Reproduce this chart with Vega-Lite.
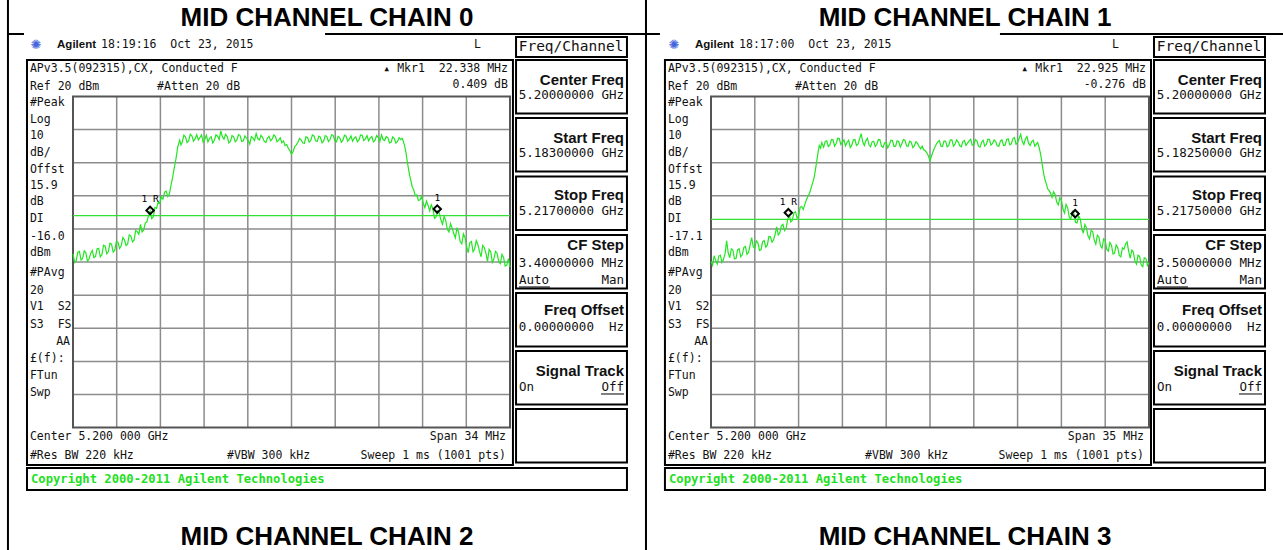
{
"$schema":"https://vega.github.io/schema/vega-lite/v6.json",
"width":1283,"height":550,"autosize":{"type":"none"},"padding":0,"background":"white",
"config":{"view":{"stroke":null}},
"datasets":{
"trace":[
{"p":"L","f":-17,"dbm":-27.5},{"p":"L","f":-16.875,"dbm":-30.1},{"p":"L","f":-16.75,"dbm":-29.6},{"p":"L","f":-16.625,"dbm":-27},{"p":"L","f":-16.5,"dbm":-26.8},{"p":"L","f":-16.375,"dbm":-29.4},{"p":"L","f":-16.25,"dbm":-28.9},{"p":"L","f":-16.125,"dbm":-26.6},{"p":"L","f":-16,"dbm":-27.2},{"p":"L","f":-15.875,"dbm":-29.8},{"p":"L","f":-15.75,"dbm":-29},{"p":"L","f":-15.625,"dbm":-27.4},{"p":"L","f":-15.5,"dbm":-26.5},{"p":"L","f":-15.375,"dbm":-28.7},{"p":"L","f":-15.25,"dbm":-28.3},{"p":"L","f":-15.125,"dbm":-26},{"p":"L","f":-15,"dbm":-25.9},{"p":"L","f":-14.875,"dbm":-28.4},{"p":"L","f":-14.75,"dbm":-27.8},{"p":"L","f":-14.625,"dbm":-24.9},{"p":"L","f":-14.5,"dbm":-25.2},{"p":"L","f":-14.375,"dbm":-27.5},{"p":"L","f":-14.25,"dbm":-26.9},{"p":"L","f":-14.125,"dbm":-24.3},{"p":"L","f":-14,"dbm":-24.6},{"p":"L","f":-13.875,"dbm":-27},{"p":"L","f":-13.75,"dbm":-26.4},{"p":"L","f":-13.625,"dbm":-23.8},{"p":"L","f":-13.5,"dbm":-24},{"p":"L","f":-13.375,"dbm":-25.9},{"p":"L","f":-13.25,"dbm":-25.1},{"p":"L","f":-13.125,"dbm":-22.6},{"p":"L","f":-13,"dbm":-23.2},{"p":"L","f":-12.875,"dbm":-25},{"p":"L","f":-12.75,"dbm":-24.6},{"p":"L","f":-12.625,"dbm":-21.8},{"p":"L","f":-12.5,"dbm":-22.1},{"p":"L","f":-12.375,"dbm":-23.9},{"p":"L","f":-12.25,"dbm":-23.4},{"p":"L","f":-12.125,"dbm":-20.5},{"p":"L","f":-12,"dbm":-20.8},{"p":"L","f":-11.875,"dbm":-21.6},{"p":"L","f":-11.75,"dbm":-18.6},{"p":"L","f":-11.625,"dbm":-20.9},{"p":"L","f":-11.5,"dbm":-20.3},{"p":"L","f":-11.375,"dbm":-18.2},{"p":"L","f":-11.25,"dbm":-17.9},{"p":"L","f":-11.125,"dbm":-16},{"p":"L","f":-11,"dbm":-14.6},{"p":"L","f":-10.875,"dbm":-16.9},{"p":"L","f":-10.75,"dbm":-16.3},{"p":"L","f":-10.625,"dbm":-13.5},{"p":"L","f":-10.5,"dbm":-13.8},{"p":"L","f":-10.375,"dbm":-11.9},{"p":"L","f":-10.25,"dbm":-12.2},{"p":"L","f":-10.125,"dbm":-10.4},{"p":"L","f":-10,"dbm":-11},{"p":"L","f":-9.875,"dbm":-8.9},{"p":"L","f":-9.75,"dbm":-8.6},{"p":"L","f":-9.625,"dbm":-10.2},{"p":"L","f":-9.5,"dbm":-9.4},{"p":"L","f":-9.375,"dbm":-6.8},{"p":"L","f":-9.25,"dbm":-4.5},{"p":"L","f":-9.125,"dbm":-1.6},{"p":"L","f":-9,"dbm":0.9},{"p":"L","f":-8.85,"dbm":4.8},{"p":"L","f":-8.7,"dbm":6.8},{"p":"L","f":-8.6,"dbm":5.4},{"p":"L","f":-8.5,"dbm":6.2},{"p":"L","f":-8.375,"dbm":8.3},{"p":"L","f":-8.25,"dbm":7.8},{"p":"L","f":-8.125,"dbm":6.1},{"p":"L","f":-8,"dbm":6.6},{"p":"L","f":-7.875,"dbm":8.6},{"p":"L","f":-7.75,"dbm":8.1},{"p":"L","f":-7.625,"dbm":6.5},{"p":"L","f":-7.5,"dbm":7.2},{"p":"L","f":-7.375,"dbm":8.5},{"p":"L","f":-7.25,"dbm":6.9},{"p":"L","f":-7.125,"dbm":7.6},{"p":"L","f":-7,"dbm":8.4},{"p":"L","f":-6.875,"dbm":6.2},{"p":"L","f":-6.75,"dbm":7},{"p":"L","f":-6.625,"dbm":8.3},{"p":"L","f":-6.5,"dbm":6.3},{"p":"L","f":-6.375,"dbm":7.4},{"p":"L","f":-6.25,"dbm":7.9},{"p":"L","f":-6.125,"dbm":6},{"p":"L","f":-6,"dbm":6.8},{"p":"L","f":-5.875,"dbm":8.4},{"p":"L","f":-5.75,"dbm":8},{"p":"L","f":-5.625,"dbm":7},{"p":"L","f":-5.5,"dbm":9.6},{"p":"L","f":-5.375,"dbm":7.8},{"p":"L","f":-5.25,"dbm":7.1},{"p":"L","f":-5.125,"dbm":8.6},{"p":"L","f":-5,"dbm":7.9},{"p":"L","f":-4.875,"dbm":6},{"p":"L","f":-4.75,"dbm":6.4},{"p":"L","f":-4.625,"dbm":8.2},{"p":"L","f":-4.5,"dbm":7.8},{"p":"L","f":-4.375,"dbm":6.3},{"p":"L","f":-4.25,"dbm":6.9},{"p":"L","f":-4.125,"dbm":8.5},{"p":"L","f":-4,"dbm":8.2},{"p":"L","f":-3.875,"dbm":6.4},{"p":"L","f":-3.75,"dbm":6.6},{"p":"L","f":-3.625,"dbm":8.1},{"p":"L","f":-3.5,"dbm":7.4},{"p":"L","f":-3.375,"dbm":6.8},{"p":"L","f":-3.25,"dbm":5.6},{"p":"L","f":-3.125,"dbm":7.9},{"p":"L","f":-3,"dbm":7.5},{"p":"L","f":-2.875,"dbm":6.7},{"p":"L","f":-2.75,"dbm":8.8},{"p":"L","f":-2.625,"dbm":7.3},{"p":"L","f":-2.5,"dbm":6.9},{"p":"L","f":-2.375,"dbm":8.3},{"p":"L","f":-2.25,"dbm":7.6},{"p":"L","f":-2.125,"dbm":6.5},{"p":"L","f":-2,"dbm":6.1},{"p":"L","f":-1.875,"dbm":7.4},{"p":"L","f":-1.75,"dbm":8},{"p":"L","f":-1.625,"dbm":6.6},{"p":"L","f":-1.5,"dbm":7.2},{"p":"L","f":-1.375,"dbm":8.4},{"p":"L","f":-1.25,"dbm":7.9},{"p":"L","f":-1.125,"dbm":6.3},{"p":"L","f":-1,"dbm":6.8},{"p":"L","f":-0.875,"dbm":7.5},{"p":"L","f":-0.75,"dbm":6},{"p":"L","f":-0.625,"dbm":6.6},{"p":"L","f":-0.5,"dbm":5.2},{"p":"L","f":-0.375,"dbm":5.5},{"p":"L","f":-0.25,"dbm":4.4},{"p":"L","f":-0.125,"dbm":3.6},{"p":"L","f":0,"dbm":2.6},{"p":"L","f":0.125,"dbm":3.3},{"p":"L","f":0.25,"dbm":4.9},{"p":"L","f":0.375,"dbm":5.4},{"p":"L","f":0.5,"dbm":6.2},{"p":"L","f":0.625,"dbm":7.3},{"p":"L","f":0.75,"dbm":6.9},{"p":"L","f":0.875,"dbm":6},{"p":"L","f":1,"dbm":5.8},{"p":"L","f":1.125,"dbm":7.8},{"p":"L","f":1.25,"dbm":7.6},{"p":"L","f":1.375,"dbm":6.2},{"p":"L","f":1.5,"dbm":6.7},{"p":"L","f":1.625,"dbm":8.4},{"p":"L","f":1.75,"dbm":8.1},{"p":"L","f":1.875,"dbm":6.6},{"p":"L","f":2,"dbm":6.4},{"p":"L","f":2.125,"dbm":8},{"p":"L","f":2.25,"dbm":7.7},{"p":"L","f":2.375,"dbm":6},{"p":"L","f":2.5,"dbm":6.5},{"p":"L","f":2.625,"dbm":8.2},{"p":"L","f":2.75,"dbm":7.9},{"p":"L","f":2.875,"dbm":6.4},{"p":"L","f":3,"dbm":7},{"p":"L","f":3.125,"dbm":8.5},{"p":"L","f":3.25,"dbm":8.2},{"p":"L","f":3.375,"dbm":6.6},{"p":"L","f":3.5,"dbm":6.3},{"p":"L","f":3.625,"dbm":8},{"p":"L","f":3.75,"dbm":7.6},{"p":"L","f":3.875,"dbm":6.2},{"p":"L","f":4,"dbm":6.8},{"p":"L","f":4.125,"dbm":8.3},{"p":"L","f":4.25,"dbm":8},{"p":"L","f":4.375,"dbm":6.5},{"p":"L","f":4.5,"dbm":7.1},{"p":"L","f":4.625,"dbm":8.1},{"p":"L","f":4.75,"dbm":6.5},{"p":"L","f":4.875,"dbm":7.4},{"p":"L","f":5,"dbm":7.8},{"p":"L","f":5.125,"dbm":6.3},{"p":"L","f":5.25,"dbm":6.9},{"p":"L","f":5.375,"dbm":8.4},{"p":"L","f":5.5,"dbm":8.3},{"p":"L","f":5.625,"dbm":6.7},{"p":"L","f":5.75,"dbm":7.2},{"p":"L","f":5.875,"dbm":8.2},{"p":"L","f":6,"dbm":6.6},{"p":"L","f":6.125,"dbm":7.5},{"p":"L","f":6.25,"dbm":7.9},{"p":"L","f":6.375,"dbm":6.3},{"p":"L","f":6.5,"dbm":6.8},{"p":"L","f":6.625,"dbm":8.2},{"p":"L","f":6.75,"dbm":7.6},{"p":"L","f":6.875,"dbm":6.4},{"p":"L","f":7,"dbm":8.4},{"p":"L","f":7.125,"dbm":7},{"p":"L","f":7.25,"dbm":6.7},{"p":"L","f":7.375,"dbm":7.9},{"p":"L","f":7.5,"dbm":7.5},{"p":"L","f":7.625,"dbm":6},{"p":"L","f":7.75,"dbm":6.2},{"p":"L","f":7.875,"dbm":7.8},{"p":"L","f":8,"dbm":7.3},{"p":"L","f":8.125,"dbm":5.9},{"p":"L","f":8.25,"dbm":6.4},{"p":"L","f":8.375,"dbm":7.6},{"p":"L","f":8.5,"dbm":7},{"p":"L","f":8.6,"dbm":7.4},{"p":"L","f":8.7,"dbm":6.5},{"p":"L","f":8.8,"dbm":5.1},{"p":"L","f":8.9,"dbm":3.2},{"p":"L","f":9,"dbm":0.6},{"p":"L","f":9.1,"dbm":-1.8},{"p":"L","f":9.2,"dbm":-4},{"p":"L","f":9.3,"dbm":-5.6},{"p":"L","f":9.4,"dbm":-7.4},{"p":"L","f":9.5,"dbm":-8.1},{"p":"L","f":9.625,"dbm":-9.9},{"p":"L","f":9.75,"dbm":-9.7},{"p":"L","f":9.875,"dbm":-11.4},{"p":"L","f":10,"dbm":-11.2},{"p":"L","f":10.125,"dbm":-10.1},{"p":"L","f":10.25,"dbm":-12.3},{"p":"L","f":10.375,"dbm":-13.6},{"p":"L","f":10.5,"dbm":-11.6},{"p":"L","f":10.625,"dbm":-12.9},{"p":"L","f":10.75,"dbm":-14.5},{"p":"L","f":10.875,"dbm":-12.7},{"p":"L","f":11,"dbm":-13.8},{"p":"L","f":11.125,"dbm":-16.8},{"p":"L","f":11.25,"dbm":-16.4},{"p":"L","f":11.375,"dbm":-14.6},{"p":"L","f":11.5,"dbm":-15.2},{"p":"L","f":11.625,"dbm":-17.3},{"p":"L","f":11.75,"dbm":-18.6},{"p":"L","f":11.875,"dbm":-16.2},{"p":"L","f":12,"dbm":-17.4},{"p":"L","f":12.125,"dbm":-20.2},{"p":"L","f":12.25,"dbm":-20.9},{"p":"L","f":12.375,"dbm":-18.4},{"p":"L","f":12.5,"dbm":-19.8},{"p":"L","f":12.625,"dbm":-21.4},{"p":"L","f":12.75,"dbm":-22.7},{"p":"L","f":12.875,"dbm":-19.6},{"p":"L","f":13,"dbm":-21},{"p":"L","f":13.125,"dbm":-23.9},{"p":"L","f":13.25,"dbm":-24.5},{"p":"L","f":13.375,"dbm":-21.5},{"p":"L","f":13.5,"dbm":-22.6},{"p":"L","f":13.625,"dbm":-25.3},{"p":"L","f":13.75,"dbm":-27.2},{"p":"L","f":13.875,"dbm":-24.1},{"p":"L","f":14,"dbm":-23.8},{"p":"L","f":14.125,"dbm":-26.9},{"p":"L","f":14.25,"dbm":-26.1},{"p":"L","f":14.375,"dbm":-23.5},{"p":"L","f":14.5,"dbm":-24.7},{"p":"L","f":14.625,"dbm":-26.8},{"p":"L","f":14.75,"dbm":-28.4},{"p":"L","f":14.875,"dbm":-25},{"p":"L","f":15,"dbm":-25.6},{"p":"L","f":15.125,"dbm":-27.3},{"p":"L","f":15.25,"dbm":-29.8},{"p":"L","f":15.375,"dbm":-26.2},{"p":"L","f":15.5,"dbm":-26.9},{"p":"L","f":15.625,"dbm":-30.1},{"p":"L","f":15.75,"dbm":-29},{"p":"L","f":15.875,"dbm":-26.8},{"p":"L","f":16,"dbm":-27.4},{"p":"L","f":16.125,"dbm":-29.9},{"p":"L","f":16.25,"dbm":-30.5},{"p":"L","f":16.375,"dbm":-27.7},{"p":"L","f":16.5,"dbm":-28.6},{"p":"L","f":16.625,"dbm":-31.2},{"p":"L","f":16.75,"dbm":-30.9},{"p":"L","f":16.875,"dbm":-29},{"p":"L","f":17,"dbm":-31.5},
{"p":"R","f":-17.5,"dbm":-29.8},{"p":"R","f":-17.375,"dbm":-31},{"p":"R","f":-17.25,"dbm":-28.1},{"p":"R","f":-17.125,"dbm":-29.5},{"p":"R","f":-17,"dbm":-30.6},{"p":"R","f":-16.875,"dbm":-28.2},{"p":"R","f":-16.75,"dbm":-27.9},{"p":"R","f":-16.625,"dbm":-30.1},{"p":"R","f":-16.5,"dbm":-29.2},{"p":"R","f":-16.375,"dbm":-27.4},{"p":"R","f":-16.25,"dbm":-23.6},{"p":"R","f":-16.125,"dbm":-27.2},{"p":"R","f":-16,"dbm":-28.7},{"p":"R","f":-15.875,"dbm":-26},{"p":"R","f":-15.75,"dbm":-26.4},{"p":"R","f":-15.625,"dbm":-29},{"p":"R","f":-15.5,"dbm":-28.9},{"p":"R","f":-15.375,"dbm":-26.3},{"p":"R","f":-15.25,"dbm":-26},{"p":"R","f":-15.125,"dbm":-28.4},{"p":"R","f":-15,"dbm":-27.8},{"p":"R","f":-14.875,"dbm":-25.6},{"p":"R","f":-14.75,"dbm":-25.3},{"p":"R","f":-14.625,"dbm":-27.7},{"p":"R","f":-14.5,"dbm":-27.1},{"p":"R","f":-14.375,"dbm":-24.8},{"p":"R","f":-14.25,"dbm":-22.6},{"p":"R","f":-14.125,"dbm":-25.4},{"p":"R","f":-14,"dbm":-25.9},{"p":"R","f":-13.875,"dbm":-23.6},{"p":"R","f":-13.75,"dbm":-24.2},{"p":"R","f":-13.625,"dbm":-26.5},{"p":"R","f":-13.5,"dbm":-26.3},{"p":"R","f":-13.375,"dbm":-23.8},{"p":"R","f":-13.25,"dbm":-23.5},{"p":"R","f":-13.125,"dbm":-25.5},{"p":"R","f":-13,"dbm":-24.9},{"p":"R","f":-12.875,"dbm":-22.3},{"p":"R","f":-12.75,"dbm":-22.4},{"p":"R","f":-12.625,"dbm":-24},{"p":"R","f":-12.5,"dbm":-23.3},{"p":"R","f":-12.375,"dbm":-21.6},{"p":"R","f":-12.25,"dbm":-19.4},{"p":"R","f":-12.125,"dbm":-21.8},{"p":"R","f":-12,"dbm":-21.2},{"p":"R","f":-11.875,"dbm":-19},{"p":"R","f":-11.75,"dbm":-18.6},{"p":"R","f":-11.625,"dbm":-20.5},{"p":"R","f":-11.5,"dbm":-19.9},{"p":"R","f":-11.375,"dbm":-17.2},{"p":"R","f":-11.25,"dbm":-15.6},{"p":"R","f":-11.125,"dbm":-17.9},{"p":"R","f":-11,"dbm":-17.4},{"p":"R","f":-10.875,"dbm":-15.2},{"p":"R","f":-10.75,"dbm":-14.8},{"p":"R","f":-10.625,"dbm":-16.7},{"p":"R","f":-10.5,"dbm":-16.1},{"p":"R","f":-10.375,"dbm":-13.4},{"p":"R","f":-10.25,"dbm":-13.2},{"p":"R","f":-10.125,"dbm":-14.1},{"p":"R","f":-10,"dbm":-12.6},{"p":"R","f":-9.875,"dbm":-11.2},{"p":"R","f":-9.75,"dbm":-10.1},{"p":"R","f":-9.625,"dbm":-9.2},{"p":"R","f":-9.5,"dbm":-7.6},{"p":"R","f":-9.375,"dbm":-6.1},{"p":"R","f":-9.25,"dbm":-4.3},{"p":"R","f":-9.15,"dbm":-2},{"p":"R","f":-9.05,"dbm":0.5},{"p":"R","f":-8.95,"dbm":3},{"p":"R","f":-8.85,"dbm":5.2},{"p":"R","f":-8.75,"dbm":4.4},{"p":"R","f":-8.65,"dbm":6.1},{"p":"R","f":-8.5,"dbm":4.7},{"p":"R","f":-8.375,"dbm":6.4},{"p":"R","f":-8.25,"dbm":6.6},{"p":"R","f":-8.125,"dbm":4.9},{"p":"R","f":-8,"dbm":5.4},{"p":"R","f":-7.875,"dbm":7},{"p":"R","f":-7.75,"dbm":6.9},{"p":"R","f":-7.625,"dbm":5},{"p":"R","f":-7.5,"dbm":5.8},{"p":"R","f":-7.375,"dbm":7.4},{"p":"R","f":-7.25,"dbm":7.3},{"p":"R","f":-7.125,"dbm":5.5},{"p":"R","f":-7,"dbm":6.2},{"p":"R","f":-6.875,"dbm":6.9},{"p":"R","f":-6.75,"dbm":5.1},{"p":"R","f":-6.625,"dbm":6.2},{"p":"R","f":-6.5,"dbm":6.8},{"p":"R","f":-6.375,"dbm":4.6},{"p":"R","f":-6.25,"dbm":5.3},{"p":"R","f":-6.125,"dbm":6.9},{"p":"R","f":-6,"dbm":7},{"p":"R","f":-5.875,"dbm":5.2},{"p":"R","f":-5.75,"dbm":5.6},{"p":"R","f":-5.625,"dbm":7.2},{"p":"R","f":-5.5,"dbm":8.8},{"p":"R","f":-5.375,"dbm":6.3},{"p":"R","f":-5.25,"dbm":5.2},{"p":"R","f":-5.125,"dbm":6.6},{"p":"R","f":-5,"dbm":7.4},{"p":"R","f":-4.875,"dbm":5.4},{"p":"R","f":-4.75,"dbm":4.8},{"p":"R","f":-4.625,"dbm":6.3},{"p":"R","f":-4.5,"dbm":6.5},{"p":"R","f":-4.375,"dbm":4.9},{"p":"R","f":-4.25,"dbm":5.5},{"p":"R","f":-4.125,"dbm":7},{"p":"R","f":-4,"dbm":6.9},{"p":"R","f":-3.875,"dbm":5},{"p":"R","f":-3.75,"dbm":4.6},{"p":"R","f":-3.625,"dbm":6},{"p":"R","f":-3.5,"dbm":6.1},{"p":"R","f":-3.375,"dbm":4.5},{"p":"R","f":-3.25,"dbm":5.4},{"p":"R","f":-3.125,"dbm":6.8},{"p":"R","f":-3,"dbm":6.7},{"p":"R","f":-2.875,"dbm":4.9},{"p":"R","f":-2.75,"dbm":5},{"p":"R","f":-2.625,"dbm":6.6},{"p":"R","f":-2.5,"dbm":6.4},{"p":"R","f":-2.375,"dbm":4.7},{"p":"R","f":-2.25,"dbm":5.7},{"p":"R","f":-2.125,"dbm":7},{"p":"R","f":-2,"dbm":6.8},{"p":"R","f":-1.875,"dbm":5.1},{"p":"R","f":-1.75,"dbm":4.9},{"p":"R","f":-1.625,"dbm":6.5},{"p":"R","f":-1.5,"dbm":6.2},{"p":"R","f":-1.375,"dbm":4.6},{"p":"R","f":-1.25,"dbm":5.1},{"p":"R","f":-1.125,"dbm":6.3},{"p":"R","f":-1,"dbm":5.9},{"p":"R","f":-0.875,"dbm":4.9},{"p":"R","f":-0.75,"dbm":4.2},{"p":"R","f":-0.625,"dbm":5},{"p":"R","f":-0.5,"dbm":3.9},{"p":"R","f":-0.375,"dbm":3.6},{"p":"R","f":-0.25,"dbm":3},{"p":"R","f":-0.125,"dbm":2},{"p":"R","f":0,"dbm":0.6},{"p":"R","f":0.125,"dbm":2.1},{"p":"R","f":0.25,"dbm":3.4},{"p":"R","f":0.375,"dbm":4.6},{"p":"R","f":0.5,"dbm":5.6},{"p":"R","f":0.625,"dbm":6.3},{"p":"R","f":0.75,"dbm":6.7},{"p":"R","f":0.875,"dbm":5},{"p":"R","f":1,"dbm":4.9},{"p":"R","f":1.125,"dbm":6.6},{"p":"R","f":1.25,"dbm":6.5},{"p":"R","f":1.375,"dbm":4.8},{"p":"R","f":1.5,"dbm":5.2},{"p":"R","f":1.625,"dbm":6.9},{"p":"R","f":1.75,"dbm":6.9},{"p":"R","f":1.875,"dbm":5},{"p":"R","f":2,"dbm":5.6},{"p":"R","f":2.125,"dbm":6.9},{"p":"R","f":2.25,"dbm":6.3},{"p":"R","f":2.375,"dbm":5.1},{"p":"R","f":2.5,"dbm":4.8},{"p":"R","f":2.625,"dbm":6.4},{"p":"R","f":2.75,"dbm":6.7},{"p":"R","f":2.875,"dbm":5.2},{"p":"R","f":3,"dbm":5.9},{"p":"R","f":3.125,"dbm":6.6},{"p":"R","f":3.25,"dbm":7.1},{"p":"R","f":3.375,"dbm":5.3},{"p":"R","f":3.5,"dbm":5.4},{"p":"R","f":3.625,"dbm":7},{"p":"R","f":3.75,"dbm":6.6},{"p":"R","f":3.875,"dbm":5},{"p":"R","f":4,"dbm":4.7},{"p":"R","f":4.125,"dbm":6.2},{"p":"R","f":4.25,"dbm":6.8},{"p":"R","f":4.375,"dbm":5},{"p":"R","f":4.5,"dbm":5.5},{"p":"R","f":4.625,"dbm":7.1},{"p":"R","f":4.75,"dbm":7},{"p":"R","f":4.875,"dbm":5.3},{"p":"R","f":5,"dbm":5.8},{"p":"R","f":5.125,"dbm":6.9},{"p":"R","f":5.25,"dbm":6.4},{"p":"R","f":5.375,"dbm":5.1},{"p":"R","f":5.5,"dbm":4.9},{"p":"R","f":5.625,"dbm":6.5},{"p":"R","f":5.75,"dbm":6.9},{"p":"R","f":5.875,"dbm":5.2},{"p":"R","f":6,"dbm":5.3},{"p":"R","f":6.125,"dbm":7},{"p":"R","f":6.25,"dbm":7.2},{"p":"R","f":6.375,"dbm":5.4},{"p":"R","f":6.5,"dbm":5.7},{"p":"R","f":6.625,"dbm":7.3},{"p":"R","f":6.75,"dbm":7.6},{"p":"R","f":6.875,"dbm":5.6},{"p":"R","f":7,"dbm":6.1},{"p":"R","f":7.125,"dbm":7.4},{"p":"R","f":7.25,"dbm":8.6},{"p":"R","f":7.375,"dbm":6.4},{"p":"R","f":7.5,"dbm":5.5},{"p":"R","f":7.625,"dbm":7.2},{"p":"R","f":7.75,"dbm":7.9},{"p":"R","f":7.875,"dbm":5.9},{"p":"R","f":8,"dbm":5.2},{"p":"R","f":8.125,"dbm":6.4},{"p":"R","f":8.25,"dbm":6.8},{"p":"R","f":8.375,"dbm":5},{"p":"R","f":8.5,"dbm":5.6},{"p":"R","f":8.6,"dbm":6.1},{"p":"R","f":8.7,"dbm":4.9},{"p":"R","f":8.8,"dbm":3.3},{"p":"R","f":8.9,"dbm":1.2},{"p":"R","f":9,"dbm":-1.4},{"p":"R","f":9.1,"dbm":-3.6},{"p":"R","f":9.2,"dbm":-5.3},{"p":"R","f":9.3,"dbm":-6.4},{"p":"R","f":9.4,"dbm":-7.9},{"p":"R","f":9.5,"dbm":-8.3},{"p":"R","f":9.625,"dbm":-9.1},{"p":"R","f":9.75,"dbm":-10.5},{"p":"R","f":9.875,"dbm":-8.8},{"p":"R","f":10,"dbm":-9.6},{"p":"R","f":10.125,"dbm":-11.9},{"p":"R","f":10.25,"dbm":-12.7},{"p":"R","f":10.375,"dbm":-10.6},{"p":"R","f":10.5,"dbm":-11.4},{"p":"R","f":10.625,"dbm":-14},{"p":"R","f":10.75,"dbm":-15.2},{"p":"R","f":10.875,"dbm":-12.6},{"p":"R","f":11,"dbm":-13.6},{"p":"R","f":11.125,"dbm":-16.4},{"p":"R","f":11.25,"dbm":-17.1},{"p":"R","f":11.375,"dbm":-14.7},{"p":"R","f":11.5,"dbm":-15.4},{"p":"R","f":11.625,"dbm":-18},{"p":"R","f":11.75,"dbm":-18.2},{"p":"R","f":11.875,"dbm":-16.1},{"p":"R","f":12,"dbm":-16.9},{"p":"R","f":12.125,"dbm":-19.8},{"p":"R","f":12.25,"dbm":-21.3},{"p":"R","f":12.375,"dbm":-18.7},{"p":"R","f":12.5,"dbm":-19.6},{"p":"R","f":12.625,"dbm":-22.1},{"p":"R","f":12.75,"dbm":-23},{"p":"R","f":12.875,"dbm":-20.4},{"p":"R","f":13,"dbm":-20.8},{"p":"R","f":13.125,"dbm":-23.3},{"p":"R","f":13.25,"dbm":-24.6},{"p":"R","f":13.375,"dbm":-21.9},{"p":"R","f":13.5,"dbm":-22.5},{"p":"R","f":13.625,"dbm":-25.1},{"p":"R","f":13.75,"dbm":-25.8},{"p":"R","f":13.875,"dbm":-23},{"p":"R","f":14,"dbm":-23.4},{"p":"R","f":14.125,"dbm":-26.2},{"p":"R","f":14.25,"dbm":-26.7},{"p":"R","f":14.375,"dbm":-24.1},{"p":"R","f":14.5,"dbm":-24.9},{"p":"R","f":14.625,"dbm":-27.6},{"p":"R","f":14.75,"dbm":-27.3},{"p":"R","f":14.875,"dbm":-24.8},{"p":"R","f":15,"dbm":-25.6},{"p":"R","f":15.125,"dbm":-28},{"p":"R","f":15.25,"dbm":-28.4},{"p":"R","f":15.375,"dbm":-25.7},{"p":"R","f":15.5,"dbm":-26.1},{"p":"R","f":15.625,"dbm":-24.6},{"p":"R","f":15.75,"dbm":-23.9},{"p":"R","f":15.875,"dbm":-26.8},{"p":"R","f":16,"dbm":-28.8},{"p":"R","f":16.125,"dbm":-26.4},{"p":"R","f":16.25,"dbm":-27},{"p":"R","f":16.375,"dbm":-29.7},{"p":"R","f":16.5,"dbm":-30.6},{"p":"R","f":16.625,"dbm":-27.9},{"p":"R","f":16.75,"dbm":-28.3},{"p":"R","f":16.875,"dbm":-30.9},{"p":"R","f":17,"dbm":-31.4},{"p":"R","f":17.125,"dbm":-28.7},{"p":"R","f":17.25,"dbm":-28.9},{"p":"R","f":17.375,"dbm":-31},{"p":"R","f":17.5,"dbm":-30.2}
],
"vgrid":[{"p":"L","f":-13.6},{"p":"L","f":-10.2},{"p":"L","f":-6.8},{"p":"L","f":-3.4},{"p":"L","f":0},{"p":"L","f":3.4},{"p":"L","f":6.8},{"p":"L","f":10.2},{"p":"L","f":13.6},
{"p":"R","f":-14},{"p":"R","f":-10.5},{"p":"R","f":-7},{"p":"R","f":-3.5},{"p":"R","f":0},{"p":"R","f":3.5},{"p":"R","f":7},{"p":"R","f":10.5},{"p":"R","f":14}],
"hgrid":[{"dbm":10},{"dbm":0},{"dbm":-10},{"dbm":-20},{"dbm":-30},{"dbm":-40},{"dbm":-50},{"dbm":-60},{"dbm":-70}],
"dline":[{"p":"L","dbm":-16.0},{"p":"R","dbm":-17.1}],
"mkr":[{"p":"L","f":-11.0,"dbm":-14.4,"lab":"1 R"},{"p":"L","f":11.34,"dbm":-14.0,"lab":"1"},{"p":"R","f":-11.32,"dbm":-15.1,"lab":"1 R"},{"p":"R","f":11.6,"dbm":-15.4,"lab":"1"}],
"lines":[
{"p":"L","k":"t","x1":-22.06,"x2":-22.06,"y1":49.15,"y2":-116.97},
{"p":"L","k":"t","x1":27.58,"x2":27.58,"y1":49.15,"y2":-116.97},
{"p":"L","k":"t","x1":-22.06,"x2":-20.81,"y1":38.88,"y2":38.88},
{"p":"L","k":"t","x1":2.61,"x2":27.58,"y1":38.88,"y2":38.88},
{"p":"R","k":"t","x1":-22.69,"x2":-21.58,"y1":38.88,"y2":38.88},
{"p":"R","k":"t","x1":5.59,"x2":28.21,"y1":38.88,"y2":38.88},
{"p":"L","k":"u","x1":17.70,"x2":20.11,"y1":-37.53,"y2":-37.53},
{"p":"L","k":"u","x1":24.08,"x2":25.87,"y1":-69.85,"y2":-69.85},
{"p":"R","k":"u","x1":18.14,"x2":20.62,"y1":-37.53,"y2":-37.53},
{"p":"R","k":"u","x1":24.69,"x2":26.53,"y1":-69.85,"y2":-69.85}],
"boxes":[
{"p":"L","x1":-20.58,"x2":17.23,"y1":31.02,"y2":-91.30},
{"p":"L","x1":17.47,"x2":26.10,"y1":37.97,"y2":31.93},
{"p":"L","x1":17.47,"x2":26.10,"y1":31.02,"y2":14.87},
{"p":"L","x1":17.47,"x2":26.10,"y1":13.51,"y2":-2.65},
{"p":"L","x1":17.47,"x2":26.10,"y1":-4.16,"y2":-20.32},
{"p":"L","x1":17.47,"x2":26.10,"y1":-21.83,"y2":-37.99},
{"p":"L","x1":17.47,"x2":26.10,"y1":-39.35,"y2":-55.51},
{"p":"L","x1":17.47,"x2":26.10,"y1":-56.86,"y2":-73.02},
{"p":"L","x1":17.47,"x2":26.10,"y1":-74.38,"y2":-90.54},
{"p":"L","x1":-20.58,"x2":26.10,"y1":-92.20,"y2":-98.85},
{"p":"R","x1":-21.18,"x2":17.66,"y1":31.02,"y2":-91.30},
{"p":"R","x1":17.90,"x2":26.77,"y1":37.97,"y2":31.93},
{"p":"R","x1":17.90,"x2":26.77,"y1":31.02,"y2":14.87},
{"p":"R","x1":17.90,"x2":26.77,"y1":13.51,"y2":-2.65},
{"p":"R","x1":17.90,"x2":26.77,"y1":-4.16,"y2":-20.32},
{"p":"R","x1":17.90,"x2":26.77,"y1":-21.83,"y2":-37.99},
{"p":"R","x1":17.90,"x2":26.77,"y1":-39.35,"y2":-55.51},
{"p":"R","x1":17.90,"x2":26.77,"y1":-56.86,"y2":-73.02},
{"p":"R","x1":17.90,"x2":26.77,"y1":-74.38,"y2":-90.54},
{"p":"R","x1":-21.18,"x2":26.77,"y1":-92.20,"y2":-98.85}],
"txt":[
{"p":"L","r":"mL","f":-14.82,"dbm":35.55,"t":"18:19:16\u00a0\u00a0Oct 23, 2015"},
{"p":"L","r":"mL","f":14.20,"dbm":35.55,"t":"L"},
{"p":"L","r":"mL","f":-20.35,"dbm":28.31,"t":"APv3.5(092315),CX, Conducted F"},
{"p":"L","r":"mL","f":-20.35,"dbm":22.87,"t":"Ref 20 dBm"},
{"p":"L","r":"mL","f":-10.46,"dbm":22.87,"t":"#Atten 20 dB"},
{"p":"L","r":"mL","f":-20.35,"dbm":18.04,"t":"#Peak"},
{"p":"L","r":"mL","f":-20.35,"dbm":12.90,"t":"Log"},
{"p":"L","r":"mL","f":-20.35,"dbm":8.07,"t":"10"},
{"p":"L","r":"mL","f":-20.35,"dbm":2.94,"t":"dB/"},
{"p":"L","r":"mL","f":-20.35,"dbm":-2.20,"t":"Offst"},
{"p":"L","r":"mL","f":-20.35,"dbm":-7.03,"t":"15.9"},
{"p":"L","r":"mL","f":-20.35,"dbm":-11.86,"t":"dB"},
{"p":"L","r":"mL","f":-20.35,"dbm":-17.00,"t":"DI"},
{"p":"L","r":"mL","f":-20.35,"dbm":-22.43,"t":"-16.0"},
{"p":"L","r":"mL","f":-20.35,"dbm":-27.27,"t":"dBm"},
{"p":"L","r":"mL","f":-20.35,"dbm":-33.31,"t":"#PAvg"},
{"p":"L","r":"mL","f":-20.35,"dbm":-38.74,"t":"20"},
{"p":"L","r":"mL","f":-20.35,"dbm":-43.58,"t":"V1\u00a0\u00a0S2"},
{"p":"L","r":"mL","f":-20.35,"dbm":-49.01,"t":"S3\u00a0\u00a0FS"},
{"p":"L","r":"mL","f":-20.35,"dbm":-59.28,"t":"£(f):"},
{"p":"L","r":"mL","f":-20.35,"dbm":-64.42,"t":"FTun"},
{"p":"L","r":"mL","f":-20.35,"dbm":-69.55,"t":"Swp"},
{"p":"L","r":"mL","f":-20.35,"dbm":-82.84,"t":"Center 5.200 000 GHz"},
{"p":"L","r":"mL","f":-20.35,"dbm":-88.58,"t":"#Res BW 220 kHz"},
{"p":"L","r":"mL","f":-5.02,"dbm":-88.58,"t":"#VBW 300 kHz"},
{"p":"L","r":"mR","f":16.84,"dbm":28.31,"t":"▴ Mkr1\u00a0\u00a022.338 MHz"},
{"p":"L","r":"mR","f":16.84,"dbm":23.47,"t":"0.409 dB"},
{"p":"L","r":"mR","f":-17.23,"dbm":-54.15,"t":"AA"},
{"p":"L","r":"mR","f":16.69,"dbm":-82.84,"t":"Span 34 MHz"},
{"p":"L","r":"mR","f":16.69,"dbm":-88.58,"t":"Sweep 1 ms (1001 pts)"},
{"p":"L","r":"brand","f":-18.24,"dbm":35.55,"t":"Agilent"},
{"p":"L","r":"logo","f":-19.88,"dbm":35.55,"t":"✺"},
{"p":"L","r":"kt","f":21.75,"dbm":34.95,"t":"Freq/Channel"},
{"p":"L","r":"key","f":25.87,"dbm":24.98,"t":"Center Freq"},
{"p":"L","r":"key","f":25.87,"dbm":7.47,"t":"Start Freq"},
{"p":"L","r":"key","f":25.87,"dbm":-9.90,"t":"Stop Freq"},
{"p":"L","r":"key","f":25.87,"dbm":-24.85,"t":"CF Step"},
{"p":"L","r":"key","f":25.87,"dbm":-44.48,"t":"Freq Offset"},
{"p":"L","r":"key","f":25.87,"dbm":-62.91,"t":"Signal Track"},
{"p":"L","r":"kv","f":25.87,"dbm":20.45,"t":"5.20000000 GHz"},
{"p":"L","r":"kv","f":25.87,"dbm":2.94,"t":"5.18300000 GHz"},
{"p":"L","r":"kv","f":25.87,"dbm":-14.73,"t":"5.21700000 GHz"},
{"p":"L","r":"kv","f":25.87,"dbm":-30.29,"t":"3.40000000 MHz"},
{"p":"L","r":"kv","f":25.87,"dbm":-35.42,"t":"Man"},
{"p":"L","r":"kv","f":25.87,"dbm":-49.62,"t":"0.00000000\u00a0\u00a0Hz"},
{"p":"L","r":"kv","f":25.87,"dbm":-67.74,"t":"Off"},
{"p":"L","r":"ko","f":17.70,"dbm":-35.42,"t":"Auto"},
{"p":"L","r":"ko","f":17.70,"dbm":-67.74,"t":"On"},
{"p":"L","r":"copy","f":-20.27,"dbm":-95.52,"t":"Copyright 2000-2011 Agilent Technologies"},
{"p":"L","r":"title","f":2.76,"dbm":43.71,"t":"MID CHANNEL CHAIN 0"},
{"p":"L","r":"title","f":2.76,"dbm":-113.04,"t":"MID CHANNEL CHAIN 2"},
{"p":"R","r":"mL","f":-15.26,"dbm":35.55,"t":"18:17:00\u00a0\u00a0Oct 23, 2015"},
{"p":"R","r":"mL","f":14.54,"dbm":35.55,"t":"L"},
{"p":"R","r":"mL","f":-20.94,"dbm":28.31,"t":"APv3.5(092315),CX, Conducted F"},
{"p":"R","r":"mL","f":-20.94,"dbm":22.87,"t":"Ref 20 dBm"},
{"p":"R","r":"mL","f":-10.79,"dbm":22.87,"t":"#Atten 20 dB"},
{"p":"R","r":"mL","f":-20.94,"dbm":18.04,"t":"#Peak"},
{"p":"R","r":"mL","f":-20.94,"dbm":12.90,"t":"Log"},
{"p":"R","r":"mL","f":-20.94,"dbm":8.07,"t":"10"},
{"p":"R","r":"mL","f":-20.94,"dbm":2.94,"t":"dB/"},
{"p":"R","r":"mL","f":-20.94,"dbm":-2.20,"t":"Offst"},
{"p":"R","r":"mL","f":-20.94,"dbm":-7.03,"t":"15.9"},
{"p":"R","r":"mL","f":-20.94,"dbm":-11.86,"t":"dB"},
{"p":"R","r":"mL","f":-20.94,"dbm":-17.00,"t":"DI"},
{"p":"R","r":"mL","f":-20.94,"dbm":-22.43,"t":"-17.1"},
{"p":"R","r":"mL","f":-20.94,"dbm":-27.27,"t":"dBm"},
{"p":"R","r":"mL","f":-20.94,"dbm":-33.31,"t":"#PAvg"},
{"p":"R","r":"mL","f":-20.94,"dbm":-38.74,"t":"20"},
{"p":"R","r":"mL","f":-20.94,"dbm":-43.58,"t":"V1\u00a0\u00a0S2"},
{"p":"R","r":"mL","f":-20.94,"dbm":-49.01,"t":"S3\u00a0\u00a0FS"},
{"p":"R","r":"mL","f":-20.94,"dbm":-59.28,"t":"£(f):"},
{"p":"R","r":"mL","f":-20.94,"dbm":-64.42,"t":"FTun"},
{"p":"R","r":"mL","f":-20.94,"dbm":-69.55,"t":"Swp"},
{"p":"R","r":"mL","f":-20.94,"dbm":-82.84,"t":"Center 5.200 000 GHz"},
{"p":"R","r":"mL","f":-20.94,"dbm":-88.58,"t":"#Res BW 220 kHz"},
{"p":"R","r":"mL","f":-5.19,"dbm":-88.58,"t":"#VBW 300 kHz"},
{"p":"R","r":"mR","f":17.26,"dbm":28.31,"t":"▴ Mkr1\u00a0\u00a022.925 MHz"},
{"p":"R","r":"mR","f":17.26,"dbm":23.47,"t":"-0.276 dB"},
{"p":"R","r":"mR","f":-17.74,"dbm":-54.15,"t":"AA"},
{"p":"R","r":"mR","f":17.10,"dbm":-82.84,"t":"Span 35 MHz"},
{"p":"R","r":"mR","f":17.10,"dbm":-88.58,"t":"Sweep 1 ms (1001 pts)"},
{"p":"R","r":"brand","f":-18.78,"dbm":35.55,"t":"Agilent"},
{"p":"R","r":"logo","f":-20.46,"dbm":35.55,"t":"✺"},
{"p":"R","r":"kt","f":22.30,"dbm":34.95,"t":"Freq/Channel"},
{"p":"R","r":"key","f":26.53,"dbm":24.98,"t":"Center Freq"},
{"p":"R","r":"key","f":26.53,"dbm":7.47,"t":"Start Freq"},
{"p":"R","r":"key","f":26.53,"dbm":-9.90,"t":"Stop Freq"},
{"p":"R","r":"key","f":26.53,"dbm":-24.85,"t":"CF Step"},
{"p":"R","r":"key","f":26.53,"dbm":-44.48,"t":"Freq Offset"},
{"p":"R","r":"key","f":26.53,"dbm":-62.91,"t":"Signal Track"},
{"p":"R","r":"kv","f":26.53,"dbm":20.45,"t":"5.20000000 GHz"},
{"p":"R","r":"kv","f":26.53,"dbm":2.94,"t":"5.18250000 GHz"},
{"p":"R","r":"kv","f":26.53,"dbm":-14.73,"t":"5.21750000 GHz"},
{"p":"R","r":"kv","f":26.53,"dbm":-30.29,"t":"3.50000000 MHz"},
{"p":"R","r":"kv","f":26.53,"dbm":-35.42,"t":"Man"},
{"p":"R","r":"kv","f":26.53,"dbm":-49.62,"t":"0.00000000\u00a0\u00a0Hz"},
{"p":"R","r":"kv","f":26.53,"dbm":-67.74,"t":"Off"},
{"p":"R","r":"ko","f":18.14,"dbm":-35.42,"t":"Auto"},
{"p":"R","r":"ko","f":18.14,"dbm":-67.74,"t":"On"},
{"p":"R","r":"copy","f":-20.86,"dbm":-95.52,"t":"Copyright 2000-2011 Agilent Technologies"},
{"p":"R","r":"title","f":2.80,"dbm":43.71,"t":"MID CHANNEL CHAIN 1"},
{"p":"R","r":"title","f":2.80,"dbm":-113.04,"t":"MID CHANNEL CHAIN 3"}
]
},
"layer":[
{"layer":[
{"data":{"name":"lines"},"transform":[{"filter":"datum.p==='L' && datum.k==='t'"}],"mark":{"type":"rule","color":"#000","strokeWidth":2},"encoding":{"x":{"field":"x1","type":"quantitative","scale":{"domain":[-17,17],"range":[73,510],"nice":false,"zero":false},"axis":null},"x2":{"field":"x2"},"y":{"field":"y1","type":"quantitative","scale":{"domain":[-80,20],"range":[427.6,96.5],"nice":false,"zero":false},"axis":null},"y2":{"field":"y2"}}},
{"data":{"name":"boxes"},"transform":[{"filter":"datum.p==='L'"}],"mark":{"type":"rect","fill":"white","stroke":"#000","strokeWidth":2},"encoding":{"x":{"field":"x1","type":"quantitative","axis":null},"x2":{"field":"x2"},"y":{"field":"y1","type":"quantitative","axis":null},"y2":{"field":"y2"}}},
{"data":{"name":"lines"},"transform":[{"filter":"datum.p==='L' && datum.k==='u'"}],"mark":{"type":"rule","color":"#000","strokeWidth":1},"encoding":{"x":{"field":"x1","type":"quantitative","axis":null},"x2":{"field":"x2"},"y":{"field":"y1","type":"quantitative","axis":null},"y2":{"field":"y2"}}},
{"data":{"name":"hgrid"},"mark":{"type":"rule","color":"#8c8c8c","strokeWidth":1.5},"encoding":{"y":{"field":"dbm","type":"quantitative","axis":null},"x":{"datum":-17,"type":"quantitative","axis":null},"x2":{"datum":17}}},
{"data":{"name":"vgrid"},"transform":[{"filter":"datum.p==='L'"}],"mark":{"type":"rule","color":"#8c8c8c","strokeWidth":1.5},"encoding":{"x":{"field":"f","type":"quantitative","axis":null},"y":{"datum":-80,"type":"quantitative","axis":null},"y2":{"datum":20}}},
{"data":{"values":[{}]},"mark":{"type":"rect","fill":null,"fillOpacity":0,"stroke":"#555","strokeWidth":2},"encoding":{"x":{"datum":-17,"type":"quantitative","axis":null},"x2":{"datum":17},"y":{"datum":-80,"type":"quantitative","axis":null},"y2":{"datum":20}}},
{"data":{"name":"trace"},"transform":[{"filter":"datum.p==='L'"}],"mark":{"type":"line","color":"#22e622","strokeWidth":1.2},"encoding":{"x":{"field":"f","type":"quantitative","axis":null},"y":{"field":"dbm","type":"quantitative","axis":null}}},
{"data":{"name":"dline"},"transform":[{"filter":"datum.p==='L'"}],"mark":{"type":"rule","color":"#33e033","strokeWidth":1.3},"encoding":{"y":{"field":"dbm","type":"quantitative","axis":null},"x":{"datum":-17,"type":"quantitative","axis":null},"x2":{"datum":17}}},
{"data":{"name":"mkr"},"transform":[{"filter":"datum.p==='L'"}],"mark":{"type":"point","shape":"diamond","filled":false,"color":"#000","strokeWidth":2,"size":55,"opacity":1},"encoding":{"x":{"field":"f","type":"quantitative","axis":null},"y":{"field":"dbm","type":"quantitative","axis":null}}},
{"data":{"name":"mkr"},"transform":[{"filter":"datum.p==='L'"}],"mark":{"type":"text","font":"DejaVu Sans Mono","fontSize":9.5,"color":"#000","dy":-11,"align":"center","baseline":"middle"},"encoding":{"x":{"field":"f","type":"quantitative","axis":null},"y":{"field":"dbm","type":"quantitative","axis":null},"text":{"field":"lab"}}},
{"data":{"name":"txt"},"transform":[{"filter":"datum.p==='L' && datum.r==='mL'"}],"mark":{"type":"text","font":"DejaVu Sans Mono","fontSize":11.5,"color":"#111","align":"left","baseline":"middle"},"encoding":{"x":{"field":"f","type":"quantitative","axis":null},"y":{"field":"dbm","type":"quantitative","axis":null},"text":{"field":"t"}}},
{"data":{"name":"txt"},"transform":[{"filter":"datum.p==='L' && datum.r==='mR'"}],"mark":{"type":"text","font":"DejaVu Sans Mono","fontSize":11.5,"color":"#111","align":"right","baseline":"middle"},"encoding":{"x":{"field":"f","type":"quantitative","axis":null},"y":{"field":"dbm","type":"quantitative","axis":null},"text":{"field":"t"}}},
{"data":{"name":"txt"},"transform":[{"filter":"datum.p==='L' && datum.r==='brand'"}],"mark":{"type":"text","font":"Liberation Sans","fontWeight":"bold","fontSize":11.5,"color":"#111","align":"left","baseline":"middle"},"encoding":{"x":{"field":"f","type":"quantitative","axis":null},"y":{"field":"dbm","type":"quantitative","axis":null},"text":{"field":"t"}}},
{"data":{"name":"txt"},"transform":[{"filter":"datum.p==='L' && datum.r==='logo'"}],"mark":{"type":"text","font":"DejaVu Sans","fontSize":13,"color":"#4466dd","align":"center","baseline":"middle"},"encoding":{"x":{"field":"f","type":"quantitative","axis":null},"y":{"field":"dbm","type":"quantitative","axis":null},"text":{"field":"t"}}},
{"data":{"name":"txt"},"transform":[{"filter":"datum.p==='L' && datum.r==='kt'"}],"mark":{"type":"text","font":"DejaVu Sans Mono","fontSize":14.5,"color":"#111","align":"center","baseline":"middle"},"encoding":{"x":{"field":"f","type":"quantitative","axis":null},"y":{"field":"dbm","type":"quantitative","axis":null},"text":{"field":"t"}}},
{"data":{"name":"txt"},"transform":[{"filter":"datum.p==='L' && datum.r==='key'"}],"mark":{"type":"text","font":"Liberation Sans","fontWeight":"bold","fontSize":15,"color":"#111","align":"right","baseline":"middle"},"encoding":{"x":{"field":"f","type":"quantitative","axis":null},"y":{"field":"dbm","type":"quantitative","axis":null},"text":{"field":"t"}}},
{"data":{"name":"txt"},"transform":[{"filter":"datum.p==='L' && datum.r==='kv'"}],"mark":{"type":"text","font":"DejaVu Sans Mono","fontSize":12.5,"color":"#111","align":"right","baseline":"middle"},"encoding":{"x":{"field":"f","type":"quantitative","axis":null},"y":{"field":"dbm","type":"quantitative","axis":null},"text":{"field":"t"}}},
{"data":{"name":"txt"},"transform":[{"filter":"datum.p==='L' && datum.r==='ko'"}],"mark":{"type":"text","font":"DejaVu Sans Mono","fontSize":12.5,"color":"#111","align":"left","baseline":"middle"},"encoding":{"x":{"field":"f","type":"quantitative","axis":null},"y":{"field":"dbm","type":"quantitative","axis":null},"text":{"field":"t"}}},
{"data":{"name":"txt"},"transform":[{"filter":"datum.p==='L' && datum.r==='copy'"}],"mark":{"type":"text","font":"DejaVu Sans Mono","fontWeight":"bold","fontSize":12.2,"color":"#1ee01e","align":"left","baseline":"middle"},"encoding":{"x":{"field":"f","type":"quantitative","axis":null},"y":{"field":"dbm","type":"quantitative","axis":null},"text":{"field":"t"}}},
{"data":{"name":"txt"},"transform":[{"filter":"datum.p==='L' && datum.r==='title'"}],"mark":{"type":"text","font":"Liberation Sans","fontWeight":"bold","fontSize":26,"color":"#000","align":"center","baseline":"middle"},"encoding":{"x":{"field":"f","type":"quantitative","axis":null},"y":{"field":"dbm","type":"quantitative","axis":null},"text":{"field":"t"}}}
]},
{"layer":[
{"data":{"name":"lines"},"transform":[{"filter":"datum.p==='R' && datum.k==='t'"}],"mark":{"type":"rule","color":"#000","strokeWidth":2},"encoding":{"x":{"field":"x1","type":"quantitative","scale":{"domain":[-17.5,17.5],"range":[711,1149],"nice":false,"zero":false},"axis":null},"x2":{"field":"x2"},"y":{"field":"y1","type":"quantitative","axis":null},"y2":{"field":"y2"}}},
{"data":{"name":"boxes"},"transform":[{"filter":"datum.p==='R'"}],"mark":{"type":"rect","fill":"white","stroke":"#000","strokeWidth":2},"encoding":{"x":{"field":"x1","type":"quantitative","axis":null},"x2":{"field":"x2"},"y":{"field":"y1","type":"quantitative","axis":null},"y2":{"field":"y2"}}},
{"data":{"name":"lines"},"transform":[{"filter":"datum.p==='R' && datum.k==='u'"}],"mark":{"type":"rule","color":"#000","strokeWidth":1},"encoding":{"x":{"field":"x1","type":"quantitative","axis":null},"x2":{"field":"x2"},"y":{"field":"y1","type":"quantitative","axis":null},"y2":{"field":"y2"}}},
{"data":{"name":"hgrid"},"mark":{"type":"rule","color":"#8c8c8c","strokeWidth":1.5},"encoding":{"y":{"field":"dbm","type":"quantitative","axis":null},"x":{"datum":-17.5,"type":"quantitative","axis":null},"x2":{"datum":17.5}}},
{"data":{"name":"vgrid"},"transform":[{"filter":"datum.p==='R'"}],"mark":{"type":"rule","color":"#8c8c8c","strokeWidth":1.5},"encoding":{"x":{"field":"f","type":"quantitative","axis":null},"y":{"datum":-80,"type":"quantitative","axis":null},"y2":{"datum":20}}},
{"data":{"values":[{}]},"mark":{"type":"rect","fill":null,"fillOpacity":0,"stroke":"#555","strokeWidth":2},"encoding":{"x":{"datum":-17.5,"type":"quantitative","axis":null},"x2":{"datum":17.5},"y":{"datum":-80,"type":"quantitative","axis":null},"y2":{"datum":20}}},
{"data":{"name":"trace"},"transform":[{"filter":"datum.p==='R'"}],"mark":{"type":"line","color":"#22e622","strokeWidth":1.2},"encoding":{"x":{"field":"f","type":"quantitative","axis":null},"y":{"field":"dbm","type":"quantitative","axis":null}}},
{"data":{"name":"dline"},"transform":[{"filter":"datum.p==='R'"}],"mark":{"type":"rule","color":"#33e033","strokeWidth":1.3},"encoding":{"y":{"field":"dbm","type":"quantitative","axis":null},"x":{"datum":-17.5,"type":"quantitative","axis":null},"x2":{"datum":17.5}}},
{"data":{"name":"mkr"},"transform":[{"filter":"datum.p==='R'"}],"mark":{"type":"point","shape":"diamond","filled":false,"color":"#000","strokeWidth":2,"size":55,"opacity":1},"encoding":{"x":{"field":"f","type":"quantitative","axis":null},"y":{"field":"dbm","type":"quantitative","axis":null}}},
{"data":{"name":"mkr"},"transform":[{"filter":"datum.p==='R'"}],"mark":{"type":"text","font":"DejaVu Sans Mono","fontSize":9.5,"color":"#000","dy":-11,"align":"center","baseline":"middle"},"encoding":{"x":{"field":"f","type":"quantitative","axis":null},"y":{"field":"dbm","type":"quantitative","axis":null},"text":{"field":"lab"}}},
{"data":{"name":"txt"},"transform":[{"filter":"datum.p==='R' && datum.r==='mL'"}],"mark":{"type":"text","font":"DejaVu Sans Mono","fontSize":11.5,"color":"#111","align":"left","baseline":"middle"},"encoding":{"x":{"field":"f","type":"quantitative","axis":null},"y":{"field":"dbm","type":"quantitative","axis":null},"text":{"field":"t"}}},
{"data":{"name":"txt"},"transform":[{"filter":"datum.p==='R' && datum.r==='mR'"}],"mark":{"type":"text","font":"DejaVu Sans Mono","fontSize":11.5,"color":"#111","align":"right","baseline":"middle"},"encoding":{"x":{"field":"f","type":"quantitative","axis":null},"y":{"field":"dbm","type":"quantitative","axis":null},"text":{"field":"t"}}},
{"data":{"name":"txt"},"transform":[{"filter":"datum.p==='R' && datum.r==='brand'"}],"mark":{"type":"text","font":"Liberation Sans","fontWeight":"bold","fontSize":11.5,"color":"#111","align":"left","baseline":"middle"},"encoding":{"x":{"field":"f","type":"quantitative","axis":null},"y":{"field":"dbm","type":"quantitative","axis":null},"text":{"field":"t"}}},
{"data":{"name":"txt"},"transform":[{"filter":"datum.p==='R' && datum.r==='logo'"}],"mark":{"type":"text","font":"DejaVu Sans","fontSize":13,"color":"#4466dd","align":"center","baseline":"middle"},"encoding":{"x":{"field":"f","type":"quantitative","axis":null},"y":{"field":"dbm","type":"quantitative","axis":null},"text":{"field":"t"}}},
{"data":{"name":"txt"},"transform":[{"filter":"datum.p==='R' && datum.r==='kt'"}],"mark":{"type":"text","font":"DejaVu Sans Mono","fontSize":14.5,"color":"#111","align":"center","baseline":"middle"},"encoding":{"x":{"field":"f","type":"quantitative","axis":null},"y":{"field":"dbm","type":"quantitative","axis":null},"text":{"field":"t"}}},
{"data":{"name":"txt"},"transform":[{"filter":"datum.p==='R' && datum.r==='key'"}],"mark":{"type":"text","font":"Liberation Sans","fontWeight":"bold","fontSize":15,"color":"#111","align":"right","baseline":"middle"},"encoding":{"x":{"field":"f","type":"quantitative","axis":null},"y":{"field":"dbm","type":"quantitative","axis":null},"text":{"field":"t"}}},
{"data":{"name":"txt"},"transform":[{"filter":"datum.p==='R' && datum.r==='kv'"}],"mark":{"type":"text","font":"DejaVu Sans Mono","fontSize":12.5,"color":"#111","align":"right","baseline":"middle"},"encoding":{"x":{"field":"f","type":"quantitative","axis":null},"y":{"field":"dbm","type":"quantitative","axis":null},"text":{"field":"t"}}},
{"data":{"name":"txt"},"transform":[{"filter":"datum.p==='R' && datum.r==='ko'"}],"mark":{"type":"text","font":"DejaVu Sans Mono","fontSize":12.5,"color":"#111","align":"left","baseline":"middle"},"encoding":{"x":{"field":"f","type":"quantitative","axis":null},"y":{"field":"dbm","type":"quantitative","axis":null},"text":{"field":"t"}}},
{"data":{"name":"txt"},"transform":[{"filter":"datum.p==='R' && datum.r==='copy'"}],"mark":{"type":"text","font":"DejaVu Sans Mono","fontWeight":"bold","fontSize":12.2,"color":"#1ee01e","align":"left","baseline":"middle"},"encoding":{"x":{"field":"f","type":"quantitative","axis":null},"y":{"field":"dbm","type":"quantitative","axis":null},"text":{"field":"t"}}},
{"data":{"name":"txt"},"transform":[{"filter":"datum.p==='R' && datum.r==='title'"}],"mark":{"type":"text","font":"Liberation Sans","fontWeight":"bold","fontSize":26,"color":"#000","align":"center","baseline":"middle"},"encoding":{"x":{"field":"f","type":"quantitative","axis":null},"y":{"field":"dbm","type":"quantitative","axis":null},"text":{"field":"t"}}}
]}
],
"resolve":{"scale":{"x":"independent"}}
}
